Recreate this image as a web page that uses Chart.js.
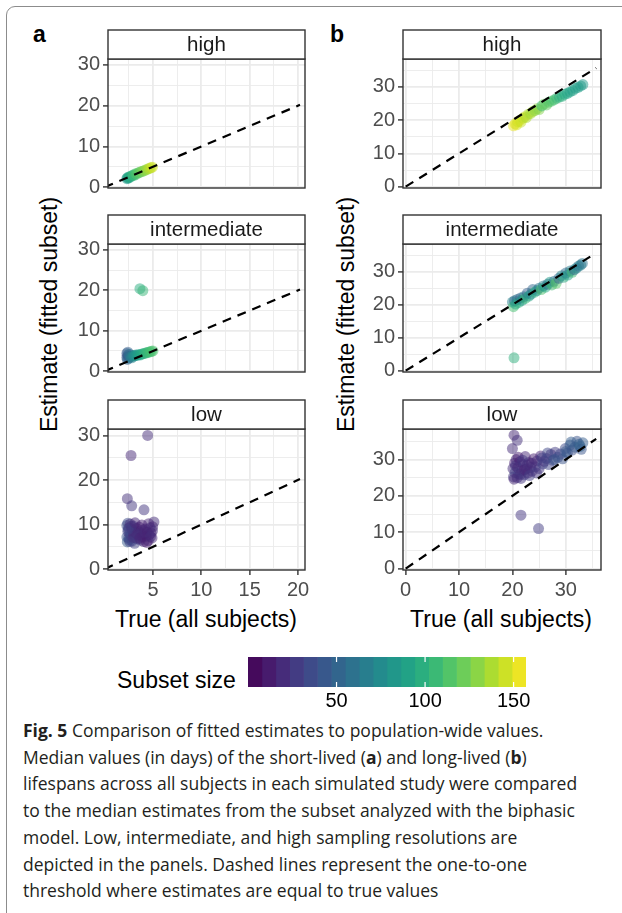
<!DOCTYPE html>
<html>
<head>
<meta charset="utf-8">
<script src="https://cdn.jsdelivr.net/npm/chart.js@4.4.1/dist/chart.umd.min.js"></script>
<style>
  body { margin: 0; width: 622px; height: 913px; overflow: hidden; background: #fff; position: relative;
         font-family: "Liberation Sans", Arial, sans-serif; }
  canvas { position: absolute; }
  .frame { position: absolute; left: 6px; top: 6px; width: 700px; height: 1000px; border: 1px solid #8c8c8c; border-radius: 9px; }
  .tag { position: absolute; font-weight: bold; font-size: 23px; color: #000; }
  .ytitle { position: absolute; width: 300px; text-align: center; font-size: 23px; color: #000; white-space: nowrap;
            transform: rotate(-90deg); }
  .xtitle { position: absolute; width: 260px; text-align: center; font-size: 23px; color: #000; white-space: nowrap; }
  .legtitle { position: absolute; left: 117px; top: 667px; font-size: 23px; color: #000; }
  .caption { position: absolute; left: 23px; top: 717px; font-family: "Open Sans", sans-serif; font-size: 17.5px;
             line-height: 26.7px; color: #231f20; white-space: nowrap; }
</style>
</head>
<body>
<div class="frame"></div>
<div class="tag" style="left:33px; top:21px;">a</div>
<div class="tag" style="left:330px; top:21px;">b</div>
<div class="ytitle" style="left:-101px; top:301px;">Estimate (fitted subset)</div>
<div class="ytitle" style="left:196px; top:301px;">Estimate (fitted subset)</div>
<div class="xtitle" style="left:76px; top:606px;">True (all subjects)</div>
<div class="xtitle" style="left:371px; top:606px;">True (all subjects)</div>
<div class="legtitle">Subset size</div>
<div class="caption"><b>Fig. 5</b> Comparison of fitted estimates to population-wide values.<br>
Median values (in days) of the short-lived (<b>a</b>) and long-lived (<b>b</b>)<br>
lifespans across all subjects in each simulated study were compared<br>
to the median estimates from the subset analyzed with the biphasic<br>
model. Low, intermediate, and high sampling resolutions are<br>
depicted in the panels. Dashed lines represent the one-to-one<br>
threshold where estimates are equal to true values</div>

<script>
// tick labels
const aXTicks = [5, 10, 15, 20];
const bXTicks = [0, 10, 20, 30];
const aYTicks = [0, 10, 20, 30];
const bYTicks = [0, 10, 20, 30];
const legendTicks = [50, 100, 150];
const rows = ['high', 'intermediate', 'low'];

// one-to-one reference line (true = estimate)
const aOneToOne = [0, 20.2];
const bOneToOne = [0, 35.7];

// subset size colour range
const sizeMin = 0;
const sizeMax = 157;

// a: short-lived, high
const aHighTrue = [2.3, 2.35, 2.45, 2.5, 2.6, 2.7, 2.85, 2.95, 3.05, 3.2, 3.3, 3.45, 3.6, 3.75, 3.9, 4.05, 4.2, 4.35, 4.5, 4.65, 4.8, 4.95];
const aHighEst = [2.1, 2.3, 2.2, 2.5, 2.4, 2.7, 2.8, 3.0, 2.9, 3.3, 3.2, 3.5, 3.6, 3.8, 3.9, 4.0, 4.2, 4.3, 4.5, 4.6, 4.8, 4.9];
const aHighSize = [84, 88, 86, 92, 95, 97, 100, 104, 106, 110, 112, 115, 118, 120, 124, 127, 130, 133, 136, 140, 142, 146];

// a: short-lived, intermediate
const aMidTrue = [2.3, 2.3, 2.35, 2.4, 2.4, 2.45, 2.5, 2.55, 2.6, 2.7, 2.8, 2.9, 3.0, 3.1, 3.2, 3.35, 3.5, 3.65, 3.8, 3.95, 4.1, 4.25, 4.4, 4.55, 4.7, 4.85, 5.0, 3.65, 3.95];
const aMidEst = [3.4, 4.4, 2.9, 3.9, 4.7, 3.2, 3.7, 4.2, 3.5, 3.6, 3.3, 3.9, 3.7, 3.8, 4.0, 3.9, 4.1, 4.0, 4.2, 4.3, 4.4, 4.5, 4.6, 4.7, 4.8, 4.9, 5.0, 20.4, 19.9];
const aMidSize = [40, 45, 50, 38, 48, 55, 44, 60, 52, 62, 70, 68, 75, 78, 80, 84, 88, 90, 94, 96, 100, 102, 104, 106, 108, 110, 112, 98, 104];

// a: short-lived, low
const aLowTrue = [2.35, 2.8, 4.45, 2.73, 4.07, 5.1, 4.97,
  2.3, 2.3, 2.35, 2.4, 2.4, 2.5, 2.5, 2.55, 2.6, 2.65, 2.7, 2.8, 2.85, 2.9, 3.0, 3.0, 3.1, 3.2, 3.25, 3.3,
  3.4, 3.5, 3.55, 3.6, 3.7, 3.8, 3.9, 4.0, 4.05, 4.15, 4.2, 4.3, 4.4, 4.5, 4.6, 4.7, 4.8, 4.9, 4.95,
  2.45, 2.6, 2.75, 2.95, 3.15, 3.35, 3.65, 3.85, 4.1, 4.35, 4.55, 4.75];
const aLowEst = [15.8, 14.2, 30.0, 25.5, 13.3, 10.6, 9.5,
  7.2, 9.8, 6.1, 8.5, 10.3, 7.0, 9.2, 6.6, 8.0, 10.1, 7.5, 9.0, 6.3, 8.7, 7.8, 9.6, 5.8, 8.2, 7.0, 9.1,
  6.8, 8.4, 7.6, 9.4, 6.5, 8.0, 7.3, 8.8, 6.2, 7.9, 9.0, 7.4, 8.3, 6.4, 7.7, 9.3, 8.1, 7.0, 8.6,
  8.9, 6.2, 9.6, 7.1, 10.4, 7.9, 6.9, 9.9, 8.4, 6.0, 10.2, 7.3];
const aLowSize = [22, 25, 20, 18, 24, 20, 16,
  42, 38, 45, 30, 36, 33, 20, 40, 28, 22, 32, 18, 34, 24, 15, 26, 30, 20, 22, 14,
  28, 18, 24, 16, 26, 20, 12, 22, 18, 14, 20, 16, 12, 18, 15, 22, 14, 18, 20,
  36, 30, 25, 22, 18, 20, 16, 14, 18, 12, 16, 20];

// b: long-lived, high
const bHighTrue = [20.2, 20.5, 20.8, 21.0, 21.3, 21.6, 22.0, 22.3, 22.6, 23.0, 23.4, 23.8, 24.2, 24.6, 25.0, 25.5,
  25.9, 26.4, 26.8, 27.3, 27.8, 28.3, 28.8, 29.3, 29.8, 30.3, 30.8, 31.3, 31.8, 32.3, 32.8, 33.2];
const bHighEst = [18.3, 18.9, 18.6, 19.5, 19.8, 19.4, 20.6, 21.0, 20.8, 21.8, 22.0, 22.6, 22.9, 23.4, 23.2, 24.3,
  24.8, 24.6, 25.4, 25.7, 26.1, 26.6, 26.9, 27.2, 27.8, 28.1, 28.5, 28.9, 29.6, 29.9, 30.3, 30.7];
const bHighSize = [152, 150, 148, 146, 150, 144, 142, 145, 138, 140, 135, 137, 130, 132, 128, 105,
  120, 118, 115, 112, 110, 105, 100, 98, 95, 92, 90, 88, 86, 88, 85, 84];

// b: long-lived, intermediate
const bMidTrue = [20.0, 20.2, 20.4, 20.6, 20.9, 21.2, 21.5, 21.8, 22.1, 22.4, 22.8, 23.1, 23.5, 23.8, 24.2, 24.6, 25.0,
  25.4, 25.8, 26.2, 26.6, 27.0, 27.4, 27.8, 28.2, 28.7, 29.2, 29.6, 30.0, 30.4, 30.8, 31.2, 31.6, 32.0, 32.4, 32.8, 33.1, 20.3];
const bMidEst = [20.8, 19.4, 21.2, 20.2, 21.6, 20.7, 22.0, 21.3, 22.4, 21.9, 23.5, 22.6, 23.2, 24.6, 23.8, 24.3, 25.0,
  24.6, 25.7, 25.3, 26.2, 26.8, 26.0, 27.1, 26.5, 28.0, 28.8, 28.3, 29.6, 29.0, 30.2, 29.8, 30.6, 31.1, 31.7, 32.0, 32.5, 3.9];
const bMidSize = [70, 110, 55, 95, 60, 100, 50, 85, 65, 105, 48, 90, 75, 52, 100, 80, 60,
  112, 70, 95, 55, 85, 108, 62, 115, 50, 72, 98, 55, 88, 65, 108, 52, 78, 58, 70, 60, 100];

// b: long-lived, low
const bLowTrue = [20.3, 20.9, 20.0, 21.6, 24.9,
  20.1, 20.2, 20.4, 20.5, 20.7, 20.9, 21.0, 21.2, 21.4, 21.6, 21.8, 22.0, 22.2, 22.4, 22.6, 22.9, 23.1, 23.4, 23.7, 24.0,
  24.3, 24.6, 25.0, 25.3, 25.7, 26.0, 26.4, 26.8, 27.2, 27.6, 28.0, 28.5, 29.0, 29.4, 29.9, 30.3, 30.8, 31.2, 31.7, 32.1,
  32.5, 32.9, 33.2,
  20.3, 20.6, 21.1, 21.5, 21.9, 22.3, 22.8, 23.2, 23.6, 24.5, 25.5, 26.6, 27.9, 30.0, 31.0, 32.7];
const bLowEst = [36.7, 35.3, 33.0, 14.7, 11.0,
  27.5, 25.2, 29.0, 26.4, 30.0, 25.0, 27.8, 26.0, 29.4, 24.8, 27.0, 28.6, 25.8, 30.8, 27.4, 26.3, 29.2, 27.8, 26.8, 30.2,
  28.0, 29.6, 27.5, 31.0, 28.8, 29.5, 30.3, 28.6, 31.4, 29.8, 32.0, 30.6, 31.5, 30.2, 33.0, 31.8, 34.0, 32.6, 33.4, 35.0,
  34.2, 32.8, 34.6,
  24.6, 28.3, 30.6, 25.9, 29.8, 27.2, 28.5, 25.6, 29.0, 26.3, 30.4, 31.8, 30.0, 32.2, 34.8, 33.6];
const bLowSize = [18, 22, 20, 24, 28,
  20, 25, 15, 30, 18, 22, 12, 28, 16, 24, 20, 14, 26, 18, 22, 15, 20, 25, 18, 14,
  28, 20, 24, 16, 30, 22, 26, 32, 20, 35, 28, 38, 32, 40, 36, 42, 45, 38, 44, 40,
  48, 42, 46,
  18, 24, 14, 22, 26, 16, 20, 28, 18, 24, 30, 34, 40, 44, 46, 50];

const viridisStops = ['#440154', '#482475', '#414487', '#355f8d', '#2a788e', '#21918c',
                      '#22a884', '#44bf70', '#7ad151', '#bddf26', '#fde725'];

function hexRgb(c) {
  return [1, 3, 5].map(i => parseInt(c.slice(i, i + 2), 16));
}

function viridis(v, alpha) {
  let t = (v - sizeMin) / (sizeMax - sizeMin);
  t = Math.min(Math.max(t, 0), 1) * 10;
  const i = Math.min(Math.floor(t), 9);
  const f = t - i;
  const a = hexRgb(viridisStops[i]), b = hexRgb(viridisStops[i + 1]);
  const rgb = a.map((c, k) => Math.round(c + (b[k] - c) * f));
  return 'rgba(' + rgb.join(',') + ',' + alpha + ')';
}

// major ticks + minor grid in between
function gridValues(major, min, max) {
  const step = major[1] - major[0];
  const out = [];
  for (let v = major[0] - step; v <= major[major.length - 1] + step; v += step / 2) {
    if (v >= min && v <= max) out.push(v);
  }
  return out;
}

const FONT = '"Liberation Sans", Arial, sans-serif';

// strip on top + panel border
const facetPlugin = {
  id: 'facet',
  afterDraw(chart, args, opts) {
    const { ctx, chartArea: a } = chart;
    const h = 29;
    ctx.save();
    ctx.strokeStyle = '#333';
    ctx.lineWidth = 1.4;
    ctx.strokeRect(a.left, a.top, a.right - a.left, a.bottom - a.top);
    ctx.fillStyle = '#fff';
    ctx.fillRect(a.left, a.top - h, a.right - a.left, h);
    ctx.strokeRect(a.left, a.top - h, a.right - a.left, h);
    ctx.fillStyle = '#1a1a1a';
    ctx.font = '20.5px ' + FONT;
    ctx.textAlign = 'center';
    ctx.textBaseline = 'middle';
    ctx.fillText(opts.label, (a.left + a.right) / 2, a.top - h / 2 + 1);
    ctx.restore();
  }
};

const cols = {
  a: { left: 50, width: 270, axisW: 58, plotW: 197, xMin: 0.35, xMax: 20.72, yMin: -0.2, yMax: 31.45,
       xTicks: aXTicks, yTicks: aYTicks, line: aOneToOne,
       data: [[aHighTrue, aHighEst, aHighSize], [aMidTrue, aMidEst, aMidSize], [aLowTrue, aLowEst, aLowSize]] },
  b: { left: 340, width: 282, axisW: 63, plotW: 198, xMin: -0.5, xMax: 36.6, yMin: -0.4, yMax: 38.4,
       xTicks: bXTicks, yTicks: bYTicks, line: bOneToOne,
       data: [[bHighTrue, bHighEst, bHighSize], [bMidTrue, bMidEst, bMidSize], [bLowTrue, bLowEst, bLowSize]] }
};
const rowTop = [59, 244, 429];
const rowH = [141, 140, 141];

function axisOpts(major, min, max, showLabels) {
  return {
    type: 'linear', min: min, max: max,
    afterBuildTicks: s => { s.ticks = gridValues(major, min, max).map(v => ({ value: v })); },
    border: { display: false },
    grid: {
      color: '#ebebeb',
      lineWidth: c => major.includes(c.tick.value) ? 1.8 : 0.9,
      drawTicks: showLabels,
      tickLength: 5,
      tickWidth: 1.4,
      tickColor: c => major.includes(c.tick.value) ? '#333' : 'rgba(0,0,0,0)'
    },
    ticks: {
      display: showLabels, autoSkip: false, maxRotation: 0, padding: 3,
      color: '#4d4d4d', font: { family: FONT, size: 20 },
      callback: v => major.includes(v) ? String(v) : ''
    }
  };
}

function makePanel(col, r) {
  const bottom = r === 2;
  const [xs, ys, sizes] = col.data[r];
  const cv = document.createElement('canvas');
  const h = rowH[r] + 32 + (bottom ? 34 : 3);
  cv.width = col.width;
  cv.height = h;
  cv.style.left = col.left + 'px';
  cv.style.top = (rowTop[r] - 32) + 'px';
  document.body.appendChild(cv);

  const x = axisOpts(col.xTicks, col.xMin, col.xMax, bottom);
  x.afterFit = s => { s.height = bottom ? 34 : 0; };
  const y = axisOpts(col.yTicks, col.yMin, col.yMax, true);
  y.afterFit = s => { s.width = col.axisW; };

  new Chart(cv, {
    type: 'scatter',
    data: {
      datasets: [
        {
          type: 'line',
          data: col.line.map(v => ({ x: v, y: v })),
          borderColor: '#000', borderWidth: 2.2, borderDash: [9, 7],
          pointRadius: 0, fill: false
        },
        {
          data: xs.map((v, i) => ({ x: v, y: ys[i] })),
          backgroundColor: sizes.map(s => viridis(s, 0.5)),
          pointRadius: 5.5, borderWidth: 0
        }
      ]
    },
    options: {
      responsive: false, animation: false, events: [],
      layout: { padding: { top: 32, left: 0, right: col.width - col.axisW - col.plotW, bottom: bottom ? 0 : 3 } },
      plugins: { legend: { display: false }, tooltip: { enabled: false }, facet: { label: rows[r] } },
      scales: { x: x, y: y }
    },
    plugins: [facetPlugin]
  });
}

[cols.a, cols.b].forEach(col => { [0, 1, 2].forEach(r => makePanel(col, r)); });

// colour bar legend
const nBins = 20;
const binW = (sizeMax - sizeMin) / nBins;
const legendCanvas = document.createElement('canvas');
legendCanvas.width = 380;
legendCanvas.height = 62;
legendCanvas.style.left = '200px';
legendCanvas.style.top = '650px';
document.body.appendChild(legendCanvas);

const whiteTicks = {
  id: 'whiteTicks',
  afterDatasetsDraw(chart) {
    const { ctx, chartArea: a, scales } = chart;
    ctx.save();
    ctx.strokeStyle = '#fff';
    ctx.lineWidth = 1.2;
    legendTicks.forEach(v => {
      const px = scales.x.getPixelForValue(v);
      ctx.beginPath();
      ctx.moveTo(px, a.top); ctx.lineTo(px, a.top + 5);
      ctx.moveTo(px, a.bottom - 5); ctx.lineTo(px, a.bottom);
      ctx.stroke();
    });
    ctx.restore();
  }
};

new Chart(legendCanvas, {
  type: 'bar',
  data: {
    labels: [''],
    datasets: Array.from({ length: nBins }, (_, i) => ({
      data: [binW],
      backgroundColor: viridis(sizeMin + (i + 0.5) * binW, 1),
      borderWidth: 0, barPercentage: 1, categoryPercentage: 1
    }))
  },
  options: {
    indexAxis: 'y', responsive: false, animation: false, events: [],
    layout: { padding: { top: 7, left: 48, right: 54, bottom: 0 } },
    plugins: { legend: { display: false }, tooltip: { enabled: false } },
    scales: {
      x: {
        type: 'linear', stacked: true, min: sizeMin, max: sizeMax,
        afterBuildTicks: s => { s.ticks = legendTicks.map(v => ({ value: v })); },
        afterFit: s => { s.height = 25; },
        grid: { display: false }, border: { display: false },
        ticks: { color: '#000', padding: -6, maxRotation: 0, autoSkip: false, font: { family: FONT, size: 20 } }
      },
      y: { stacked: true, display: false }
    }
  },
  plugins: [whiteTicks]
});
</script>
</body>
</html>
